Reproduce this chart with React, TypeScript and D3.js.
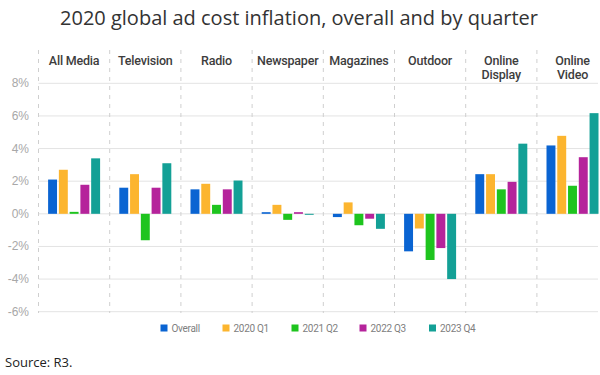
import React from "react";
import * as d3 from "d3";

const categories = ["All Media", "Television", "Radio", "Newspaper", "Magazines", "Outdoor", "Online Display", "Online Video"];
const categoryLines = [["All Media"], ["Television"], ["Radio"], ["Newspaper"], ["Magazines"], ["Outdoor"], ["Online", "Display"], ["Online", "Video"]];
const seriesNames = ["Overall", "2020 Q1", "2021 Q2", "2022 Q3", "2023 Q4"];
const seriesColors = ["#0a64d2", "#fcb52f", "#1ec41e", "#b5239b", "#13a096"];
const overall = [2.1, 1.6, 1.5, 0.1, -0.2, -2.3, 2.43, 4.19];
const q1 = [2.7, 2.43, 1.84, 0.55, 0.7, -0.9, 2.43, 4.78];
const q2 = [0.12, -1.62, 0.55, -0.37, -0.7, -2.83, 1.5, 1.72];
const q3 = [1.78, 1.6, 1.5, 0.1, -0.3, -2.1, 1.96, 3.47];
const q4 = [3.4, 3.1, 2.04, -0.06, -0.92, -4.0, 4.3, 6.17];
const seriesValues = [overall, q1, q2, q3, q4];
const yTicks = [-6, -4, -2, 0, 2, 4, 6, 8];

const W = 600;
const H = 375;

export default function App() {
  const x = d3.scaleBand<string>().domain(categories).range([38.5, 38.5 + 8 * 71.2]).padding(0);
  const y = d3.scaleLinear().domain([-6, 8]).range([311.7, 83.3]);
  const groupW = 52;
  const inner = d3.scaleBand<string>().domain(seriesNames).range([-groupW / 2, groupW / 2]).paddingInner(0.17).paddingOuter(0);
  const headFont = "Roboto, 'Liberation Sans', sans-serif";
  const legendX = [160.5, 222.5, 291.5, 359.5, 429];

  return (
    <svg width={W} height={H} style={{ display: "block", position: "absolute", left: 0, top: 0 }}>
      <rect x={0} y={0} width={W} height={H} fill="#fff" />
      <text x={299} y={25} textAnchor="middle" fontFamily="'Open Sans', sans-serif" fontSize={20} fill="#333">
        2020 global ad cost inflation, overall and by quarter
      </text>
      {yTicks.map((t) => (
        <g key={t}>
          <line x1={38.5} x2={598} y1={y(t)} y2={y(t)} stroke="#e3e3e3" strokeWidth={1} />
          <text x={29} y={y(t) + 4} textAnchor="end" fontFamily="'Liberation Sans', Arial, sans-serif" fontSize={12} fill="#a8a8a8">
            {t}%
          </text>
        </g>
      ))}
      {categories.map((c) => (
        <line key={c} x1={x(c)!} x2={x(c)!} y1={50} y2={313} stroke="#cfcfcf" strokeWidth={1} strokeDasharray="4,5" />
      ))}
      {categories.map((c, i) => (
        <text key={c} x={x(c)! + x.bandwidth() / 2} y={65} textAnchor="middle" fontFamily={headFont} fontWeight={500} fontSize={12.5} letterSpacing={-0.2} fill="#3d3d3d">
          {categoryLines[i].map((l, j) => (
            <tspan key={j} x={x(c)! + x.bandwidth() / 2} dy={j === 0 ? 0 : 13.5}>{l}</tspan>
          ))}
        </text>
      ))}
      {categories.map((c, ci) => (
        <g key={c} transform={`translate(${x(c)! + x.bandwidth() / 2},0)`}>
          {seriesNames.map((s, si) => {
            const v = seriesValues[si][ci];
            return (
              <rect key={s} x={inner(s)!} width={inner.bandwidth()} y={y(Math.max(0, v))} height={Math.abs(y(v) - y(0))} fill={seriesColors[si]} />
            );
          })}
        </g>
      ))}
      {seriesNames.map((s, i) => (
        <g key={s}>
          <rect x={legendX[i]} y={324.5} width={7} height={7} fill={seriesColors[i]} />
          <text x={legendX[i] + 11} y={332} fontFamily={headFont} fontSize={10} letterSpacing={-0.3} fill="#808080">{s}</text>
        </g>
      ))}
      <text x={5} y={366.5} fontFamily="'Open Sans', sans-serif" fontSize={13} fill="#222">Source: R3.</text>
    </svg>
  );
}
